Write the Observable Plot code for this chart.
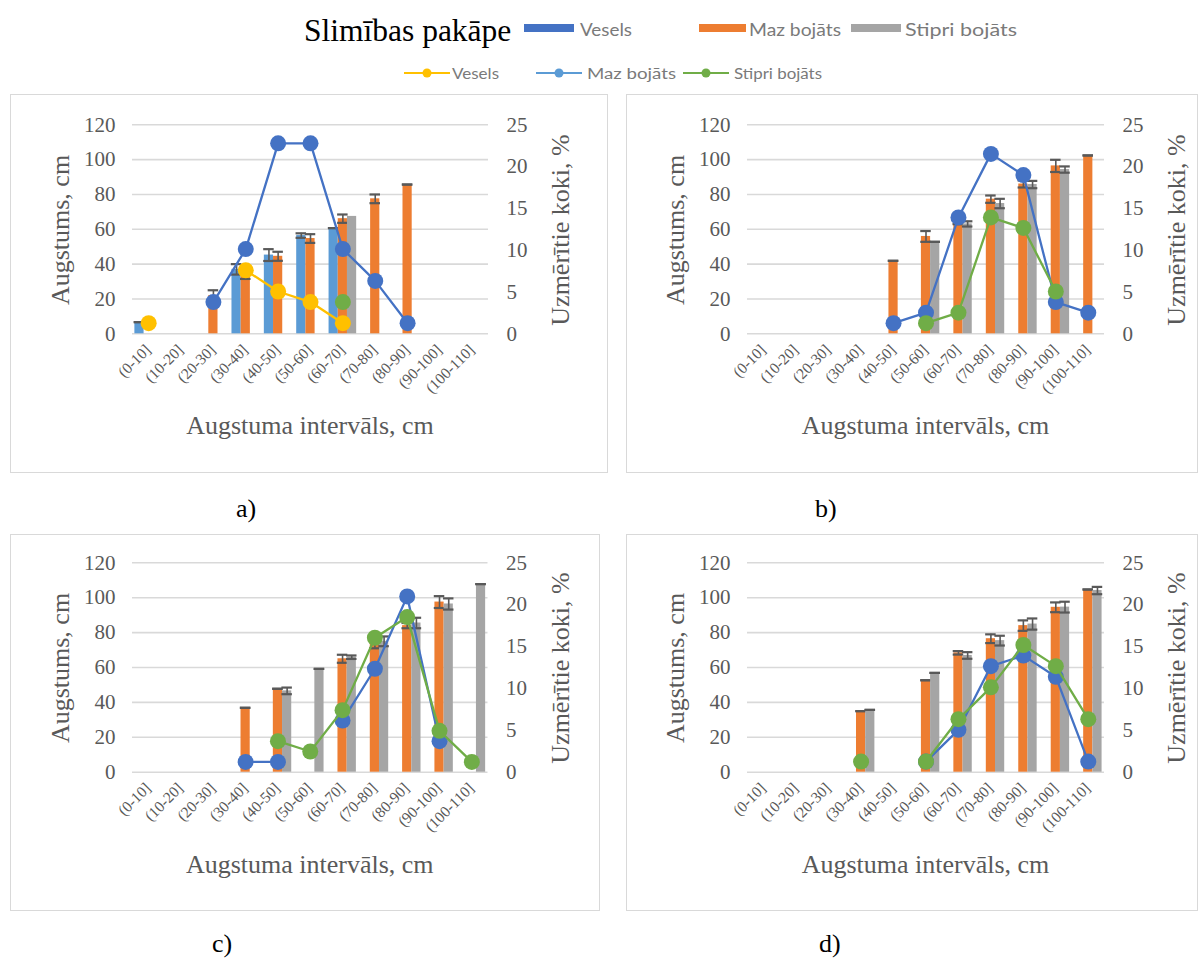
<!DOCTYPE html>
<html><head><meta charset="utf-8">
<script src="https://cdn.jsdelivr.net/npm/d3@7"></script>
<script src="https://cdn.jsdelivr.net/npm/@observablehq/plot@0.6"></script>
<style>
body{margin:0;background:#fff;}
#page{position:relative;width:1203px;height:959px;overflow:hidden;background:#fff;font-family:"Liberation Serif","Times New Roman",serif;}
.box{position:absolute;border:1px solid #d9d9d9;box-sizing:border-box;}
.chart{position:absolute;}
.chart svg{overflow:visible;}
.plabel{position:absolute;font-size:26px;color:#000;line-height:1;}
.title{position:absolute;font-size:26px;color:#595959;line-height:1;white-space:nowrap;font-family:"Liberation Serif","Times New Roman",serif;}
</style></head><body><div id="page"></div>
<script>
const _ = null;
const categories = ["(0-10]","(10-20]","(20-30]","(30-40]","(40-50]","(50-60]","(60-70]","(70-80]","(80-90]","(90-100]","(100-110]"];
const seriesNames = ["Vesels","Maz bojāts","Stipri bojāts"];
const barColors = ["#5B9BD5","#ED7D31","#A5A5A5"];
const lineColors = ["#FFC000","#4472C4","#70AD47"];
const leftTicks = [0,20,40,60,80,100,120];
const rightTicks = [0,5,10,15,20,25];
const panelLabels = ["a)","b)","c)","d)"];

// Panel a
const aHeightVesels = [6.7,_,_,37,45.2,56.4,60.7,_,_,_,_];
const aErrVesels    = [0,_,_,3,3.4,1.3,0,_,_,_,_];
const aHeightMaz    = [_,_,22,35,44.5,54.7,66.1,77.5,85.7,_,_];
const aErrMaz       = [_,_,3,3.5,2.6,2.5,2.4,2.5,0,_,_];
const aHeightStipri = [_,_,_,_,_,_,67.4,_,_,_,_];
const aErrStipri    = [_,_,_,_,_,_,_,_,_,_,_];
const aPctVesels    = [1.27,_,_,7.59,5.06,3.80,1.27,_,_,_,_];
const aPctMaz       = [_,_,3.80,10.13,22.78,22.78,10.13,6.33,1.27,_,_];
const aPctStipri    = [_,_,_,_,_,_,3.80,_,_,_,_];

// Panel b
const bHeightVesels = [_,_,_,_,_,_,_,_,_,_,_];
const bErrVesels    = [_,_,_,_,_,_,_,_,_,_,_];
const bHeightMaz    = [_,_,_,_,41.9,55.9,63,77.3,86,96.4,102.4];
const bErrMaz       = [_,_,_,_,0,3.1,0,2.1,2,3.5,0];
const bHeightStipri = [_,_,_,_,_,52.8,63.1,74.8,85.7,94.3,_];
const bErrStipri    = [_,_,_,_,_,0,1.5,2.7,2.1,1.8,_];
const bPctVesels    = [_,_,_,_,_,_,_,_,_,_,_];
const bPctMaz       = [_,_,_,_,1.27,2.53,13.92,21.52,18.99,3.80,2.53];
const bPctStipri    = [_,_,_,_,_,1.27,2.53,13.92,12.66,5.06,_];

// Panel c
const cHeightVesels = [_,_,_,_,_,_,_,_,_,_,_];
const cErrVesels    = [_,_,_,_,_,_,_,_,_,_,_];
const cHeightMaz    = [_,_,_,36.9,47.8,_,65,74,84,97.5,_];
const cErrMaz       = [_,_,_,0,0,_,2.3,3,1.5,3.4,_];
const cHeightStipri = [_,_,_,_,46.6,59.2,65.9,75,85.5,96.4,107.8];
const cErrStipri    = [_,_,_,_,1.9,0,1,2.8,3,3.2,0];
const cPctVesels    = [_,_,_,_,_,_,_,_,_,_,_];
const cPctMaz       = [_,_,_,1.23,1.23,_,6.17,12.35,20.99,3.70,_];
const cPctStipri    = [_,_,_,_,3.70,2.47,7.41,16.05,18.52,4.94,1.23];

// Panel d
const dHeightVesels = [_,_,_,_,_,_,_,_,_,_,_];
const dErrVesels    = [_,_,_,_,_,_,_,_,_,_,_];
const dHeightMaz    = [_,_,_,35,_,52.7,68.4,76.5,84,94.5,104.7];
const dErrMaz       = [_,_,_,0,_,0,1,2.5,3,2.8,0];
const dHeightStipri = [_,_,_,35.7,_,56.9,66.9,75.4,84.9,94.6,104.1];
const dErrStipri    = [_,_,_,0,_,0,1.9,2.8,3.2,3.1,2.1];
const dPctVesels    = [_,_,_,_,_,_,_,_,_,_,_];
const dPctMaz       = [_,_,_,_,_,1.27,5.06,12.66,13.92,11.39,1.27];
const dPctStipri    = [_,_,_,1.27,_,1.27,6.33,10.13,15.19,12.66,6.33];

const yTitle = "Augstums, cm";
const y2Title = "Uzmērītie koki, %";
const xTitle = "Augstuma intervāls, cm";
const legendTitle = "Slimības pakāpe";

const page = document.getElementById("page");
const RATIO = 120 / 25; // secondary axis (0–25 %) mapped onto primary (0–120 cm)

const panels = [
  {box:{left:10,top:94,w:598,h:379}, plot:{x0:132,x1:488,y0:124.3,y1:333.3},
   heights:[aHeightVesels,aHeightMaz,aHeightStipri], errs:[aErrVesels,aErrMaz,aErrStipri], pcts:[aPctVesels,aPctMaz,aPctStipri],
   label:{x:236,y:496}},
  {box:{left:626,top:94,w:572,h:379}, plot:{x0:747,x1:1104,y0:124.3,y1:333.3},
   heights:[bHeightVesels,bHeightMaz,bHeightStipri], errs:[bErrVesels,bErrMaz,bErrStipri], pcts:[bPctVesels,bPctMaz,bPctStipri],
   label:{x:815,y:496}},
  {box:{left:10,top:534,w:590,h:377}, plot:{x0:132,x1:487.5,y0:562.3,y1:771.7},
   heights:[cHeightVesels,cHeightMaz,cHeightStipri], errs:[cErrVesels,cErrMaz,cErrStipri], pcts:[cPctVesels,cPctMaz,cPctStipri],
   label:{x:212,y:931}},
  {box:{left:626,top:534,w:572,h:377}, plot:{x0:747,x1:1104,y0:562.3,y1:771.7},
   heights:[dHeightVesels,dHeightMaz,dHeightStipri], errs:[dErrVesels,dErrMaz,dErrStipri], pcts:[dPctVesels,dPctMaz,dPctStipri],
   label:{x:819,y:931}}
];

const FONT = "Liberation Serif";
const GREY = "#595959";

function addTitle(text, cx, cy, rotate) {
  const t = document.createElement("div");
  t.className = "title";
  t.textContent = text;
  Object.assign(t.style, {left: cx + "px", top: cy + "px",
    transform: "translate(-50%,-50%)" + (rotate ? " rotate(-90deg)" : "")});
  page.appendChild(t);
}

panels.forEach((p, pi) => {
  const {box, plot} = p;
  const border = document.createElement("div");
  border.className = "box";
  Object.assign(border.style, {left: box.left+"px", top: box.top+"px", width: box.w+"px", height: box.h+"px"});
  page.appendChild(border);

  const bw = (plot.x1 - plot.x0) / categories.length;
  const barW = 9.2;
  const inset = (bw - barW) / 2;
  const capW = 10.5;
  const capInset = (bw - capW) / 2;

  const marks = [
    Plot.ruleY(leftTicks, {y: d => d, stroke: "#d9d9d9", strokeWidth: 1.6})
  ];
  for (let k = 0; k < 3; k++) {
    const rows = categories.map((c, i) => ({cat: c, v: p.heights[k][i], e: p.errs[k][i]})).filter(r => r.v != null);
    const dx = (k - 1) * barW;
    marks.push(Plot.barY(rows, {x: "cat", y1: 0, y2: "v", fill: barColors[k], dx, insetLeft: inset, insetRight: inset}));
    const er = rows.filter(r => r.e != null);
    marks.push(Plot.ruleX(er, {x: "cat", y1: r => r.v - r.e, y2: r => r.v + r.e, dx, stroke: GREY, strokeWidth: 1.6}));
    marks.push(Plot.tickY(er, {x: "cat", y: r => r.v + r.e, dx, insetLeft: capInset, insetRight: capInset, stroke: GREY, strokeWidth: 2.2}));
    marks.push(Plot.tickY(er, {x: "cat", y: r => r.v - r.e, dx, insetLeft: capInset, insetRight: capInset, stroke: GREY, strokeWidth: 2.2}));
  }
  for (let k = 0; k < 3; k++) {
    const rows = categories.map((c, i) => ({cat: c, pct: p.pcts[k][i]}));
    marks.push(Plot.line(rows, {x: "cat", y: r => r.pct == null ? NaN : r.pct * RATIO, stroke: lineColors[k], strokeWidth: 2.3}));
    marks.push(Plot.dot(rows.filter(r => r.pct != null), {x: "cat", y: r => r.pct * RATIO, r: 8, fill: lineColors[k], stroke: "none"}));
  }
  marks.push(Plot.text(leftTicks, {y: d => d, text: d => String(d), frameAnchor: "left", textAnchor: "end", dx: -17, fontSize: 21, fill: GREY, fontFamily: FONT}));
  marks.push(Plot.text(rightTicks, {y: d => d * RATIO, text: d => String(d), frameAnchor: "right", textAnchor: "start", dx: 18, fontSize: 21, fill: GREY, fontFamily: FONT}));
  marks.push(Plot.text(categories, {x: d => d, text: d => d, frameAnchor: "bottom", rotate: -45, textAnchor: "end", dx: 3, dy: 17, fontSize: 15.5, fill: GREY, fontFamily: FONT}));

  const svg = Plot.plot({
    width: box.w, height: box.h,
    marginLeft: plot.x0 - box.left,
    marginRight: box.left + box.w - plot.x1,
    marginTop: plot.y0 - box.top,
    marginBottom: box.top + box.h - plot.y1,
    x: {type: "band", domain: categories, padding: 0, round: false, axis: null},
    y: {domain: [0, 120], axis: null},
    style: {background: "transparent", fontFamily: FONT, overflow: "visible"},
    marks
  });
  const holder = document.createElement("div");
  holder.className = "chart";
  Object.assign(holder.style, {left: box.left+"px", top: box.top+"px", width: box.w+"px", height: box.h+"px"});
  holder.appendChild(svg);
  page.appendChild(holder);

  const midY = (plot.y0 + plot.y1) / 2;
  addTitle(yTitle, plot.x0 - 71, midY + 1, true);
  addTitle(y2Title, plot.x1 + 73, midY + 1, true);
  addTitle(xTitle, (plot.x0 + plot.x1) / 2, plot.y1 + 93, false);

  const lab = document.createElement("div");
  lab.className = "plabel";
  lab.textContent = panelLabels[pi];
  Object.assign(lab.style, {left: p.label.x+"px", top: p.label.y+"px"});
  page.appendChild(lab);
});

// Legend
const legendSwatchColors = ["#4472C4", "#ED7D31", "#A5A5A5"];
const legendLineColors = ["#FFC000", "#5B9BD5", "#70AD47"];
const LFONT = "Lato, Open Sans, sans-serif";
const lsvg = d3.select(page).append("svg")
  .attr("width", 1203).attr("height", 92)
  .style("position", "absolute").style("left", "0px").style("top", "0px");
lsvg.append("text").attr("x", 304).attr("y", 41).attr("font-family", FONT).attr("font-size", 31.5).attr("fill", "#000").text(legendTitle);
const row1 = [{x: 524, w: 50, tx: 580, tw: 52}, {x: 699, w: 47, tx: 749, tw: 92}, {x: 851, w: 50, tx: 905, tw: 112}];
row1.forEach((r, k) => {
  lsvg.append("rect").attr("x", r.x).attr("y", 24).attr("width", r.w).attr("height", 8).attr("fill", legendSwatchColors[k]);
  lsvg.append("text").attr("x", r.tx).attr("y", 36).attr("font-family", LFONT).attr("font-size", 17)
    .attr("textLength", r.tw).attr("lengthAdjust", "spacingAndGlyphs").attr("fill", "#7a7a7a").text(seriesNames[k]);
});
const row2 = [{x: 404, w: 46, tx: 452, tw: 47}, {x: 536, w: 46, tx: 587, tw: 89}, {x: 683, w: 46, tx: 734, tw: 88}];
row2.forEach((r, k) => {
  lsvg.append("line").attr("x1", r.x).attr("x2", r.x + r.w).attr("y1", 73).attr("y2", 73).attr("stroke", legendLineColors[k]).attr("stroke-width", 2.2);
  lsvg.append("circle").attr("cx", r.x + r.w/2).attr("cy", 73).attr("r", 4.5).attr("fill", legendLineColors[k]);
  lsvg.append("text").attr("x", r.tx).attr("y", 79).attr("font-family", LFONT).attr("font-size", 15.5)
    .attr("textLength", r.tw).attr("lengthAdjust", "spacingAndGlyphs").attr("fill", "#7a7a7a").text(seriesNames[k]);
});
</script>
</body></html>
